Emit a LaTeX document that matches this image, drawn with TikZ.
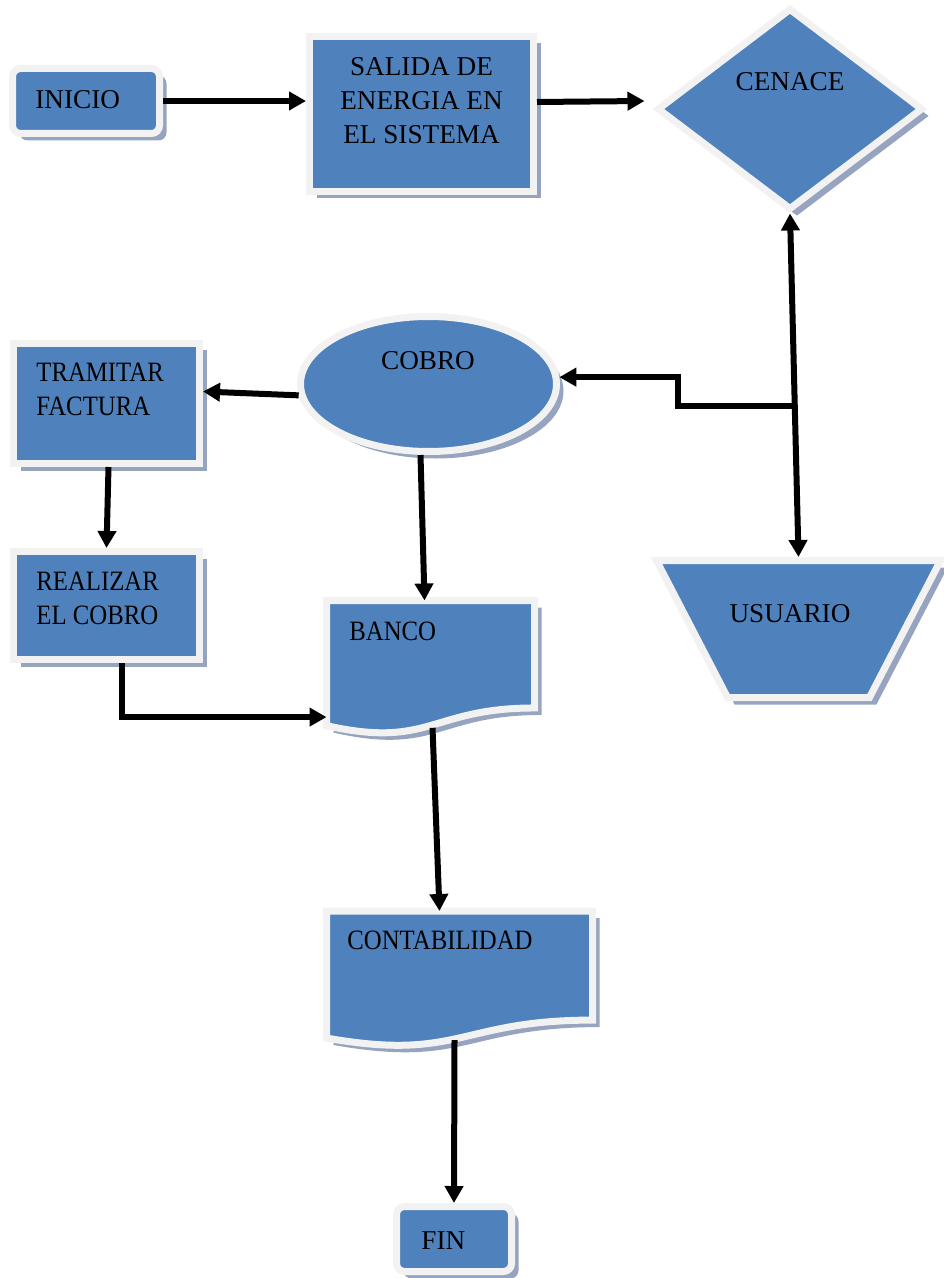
\documentclass[tikz,border=0pt]{standalone}
\usepackage{fontspec}
\setmainfont{Liberation Serif}
\newfontfamily\narrowserif[FakeStretch=0.885]{Liberation Serif}
\usetikzlibrary{arrows.meta,shapes.geometric,shadows,calc}

\definecolor{boxblue}{RGB}{79,129,189}
\definecolor{rimwhite}{RGB}{242,242,242}
\definecolor{shadeblue}{RGB}{150,164,192}

% wavy document outline drawn on the corners of a plain node
\newcommand{\docoutline}[1]{%
  \draw[docfill] (#1.north west) -- (#1.north east)
    -- ($(#1.north east)!0.802!(#1.south east)$)
    .. controls ($(#1.north)!0.802!(#1.south)$) and ($(#1.north)!1.1075!(#1.south)$)
    .. ($(#1.north west)!0.934!(#1.south west)$) -- cycle;}

\begin{document}
\begin{tikzpicture}[x=0.5pt,y=-0.5pt,
    docfill/.style={fill=boxblue,draw=rimwhite,line width=3.5pt,
      drop shadow={shadow xshift=3.5pt,shadow yshift=-3.5pt,fill=shadeblue,opacity=1}},
    blk/.style={docfill,inner sep=0pt},
    docbox/.style={rectangle,inner sep=0pt,outer sep=0pt},
    lbl/.style={inner sep=0pt,font=\fontsize{13.6}{17}\selectfont},
    nlbl/.style={inner sep=0pt,font=\narrowserif\fontsize{14}{17}\selectfont},
    arr/.style={line width=3pt,-{Triangle[length=8.5pt,width=9pt]}},
    arr2/.style={line width=3pt,{Triangle[length=8.5pt,width=9pt]}-{Triangle[length=8.5pt,width=9pt]}}]
  \useasboundingbox (0,0) rectangle (943,1278);

  % shapes
  \node[blk,rectangle,rounded corners=4pt,minimum width=73.5pt,minimum height=32.5pt] (inicio) at (86,101) {};
  \node[blk,rectangle,minimum width=112pt,minimum height=77.5pt] (salida) at (421.5,114) {};
  \node[blk,diamond,minimum width=133pt,minimum height=101pt] (cenace) at (790,109) {};
  \node[blk,ellipse,minimum width=128pt,minimum height=67.5pt] (cobro) at (428.5,384) {};
  \node[blk,rectangle,minimum width=93pt,minimum height=60pt] (tramitar) at (106.5,403.5) {};
  \node[blk,rectangle,minimum width=93pt,minimum height=54pt] (realizar) at (106.5,605.5) {};
  \node[blk,trapezium,inner sep=2pt,trapezium angle=63.4,trapezium stretches=true,shape border rotate=180,
    minimum width=142pt,minimum height=68.5pt] (usuario) at (798.5,629) {};
  \node[blk,rectangle,rounded corners=4pt,minimum width=57.5pt,minimum height=32.5pt] (fin) at (454,1239) {};
  \node[docbox,minimum width=104pt,minimum height=67pt] (banco) at (430.5,667.5) {};
  \docoutline{banco}
  \node[docbox,minimum width=133pt,minimum height=68pt] (contab) at (459.5,979) {};
  \docoutline{contab}

  % texts
  \node[lbl,anchor=base west] (tinicio) at (35,109) {INICIO};
  \node[lbl,anchor=north,align=center] (tsalida) at (421.5,57) {SALIDA DE\\ENERGIA EN\\EL SISTEMA};
  \node[lbl,anchor=base] (tcenace) at (790,91) {CENACE};
  \node[lbl,anchor=base] (tcobro) at (428,369) {COBRO};
  \node[nlbl,anchor=north west,align=left] (ttramitar) at (36,363) {TRAMITAR\\FACTURA};
  \node[nlbl,anchor=north west,align=left] (trealizar) at (36,572) {REALIZAR\\EL COBRO};
  \node[nlbl,anchor=base west] (tbanco) at (349,640) {BANCO};
  \node[nlbl,anchor=base west] (tcontab) at (347,949) {CONTABILIDAD};
  \node[lbl,anchor=base] (tusuario) at (790,622) {USUARIO};
  \node[lbl,anchor=base west] (tfin) at (421,1249) {FIN};

  % connectors
  \draw[arr] (inicio.east) -- (inicio.east -| salida.west);
  \draw[arr] ([yshift=6pt]salida.east) -- ([xshift=-4.5pt,yshift=4pt]cenace.west);
  \draw[arr2] (cenace.south) -- (usuario.north);
  \coordinate (tap) at ($(cenace.south)!0.56!(usuario.north)$);
  \draw[arr] (tap) -- ++(-117,0) |- (cobro.3);
  \draw[arr] (cobro.185) -- ([yshift=6pt]tramitar.east);
  \draw[arr] ([xshift=1pt]tramitar.south) -- (realizar.north);
  \draw[arr] ([xshift=7.5pt]realizar.south) |- ($(banco.north west)!0.87!(banco.south west)$);
  \draw[arr] ([xshift=-4pt]cobro.south) -- ([xshift=-3pt]banco.north);
  \draw[arr] ($(banco.north)!0.95!(banco.south)+(2,0)$) -- ([xshift=-10pt]contab.north);
  \draw[arr] ($(contab.north)!0.95!(contab.south)+(-5,0)$) -- (fin.north);
\end{tikzpicture}
\end{document}
